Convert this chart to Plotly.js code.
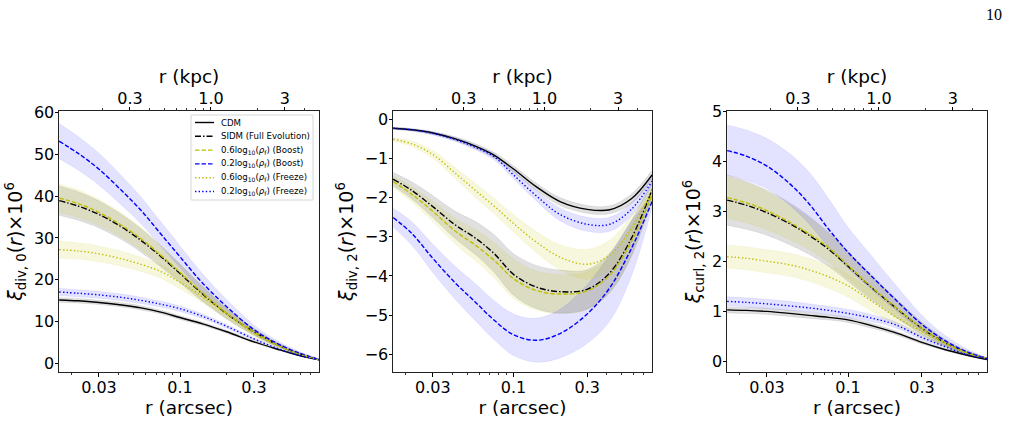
<!DOCTYPE html>
<html>
<head>
<meta charset="utf-8">
<script src="https://cdn.plot.ly/plotly-3.0.1.min.js"></script>
<style>
  html, body { margin: 0; padding: 0; background: #fff; }
  #chart { width: 1010px; height: 422px; }
</style>
</head>
<body>
<div id="chart"></div>
<script>
// Radial sampling points (arcsec) shared by every curve
const r_arcsec = [0.0166, 0.022, 0.03, 0.042, 0.056, 0.075, 0.1, 0.14, 0.2, 0.3, 0.42, 0.58, 0.79];
const kpcPerArcsec = 6.31;

const arcsecTicks = [0.03, 0.1, 0.3];
const arcsecTickText = ['0.03', '0.1', '0.3'];
const kpcTicks = [0.3, 1.0, 3];
const kpcTickText = ['0.3', '1.0', '3'];

// ---- xi_div,0 (x 1e6) ----
const div0_cdm        = [15.2, 15.0, 14.6, 14.0, 13.3, 12.3, 11.0, 9.5, 7.6, 5.2, 3.5, 2.0, 0.9];
const div0_cdm_err    = [0.55, 0.55, 0.5, 0.5, 0.5, 0.45, 0.45, 0.4, 0.35, 0.25, 0.17, 0.1, 0.05];
const div0_sidm       = [38.9, 37.6, 35.6, 32.6, 29.4, 25.6, 21.5, 16.6, 11.9, 7.6, 4.6, 2.4, 0.95];
const div0_sidm_err   = [3.5, 3.4, 3.2, 3.0, 2.8, 2.5, 2.2, 1.8, 1.3, 0.8, 0.5, 0.3, 0.1];
const div0_boost06    = [39.5, 38.2, 36.1, 33.0, 29.8, 25.9, 21.8, 16.8, 12.0, 7.6, 4.6, 2.4, 0.95];
const div0_boost06_err= [3.4, 3.3, 3.1, 2.9, 2.7, 2.4, 2.1, 1.7, 1.25, 0.8, 0.5, 0.3, 0.1];
const div0_boost02    = [53.1, 50.2, 46.4, 41.3, 36.6, 31.0, 25.5, 19.2, 13.6, 8.1, 4.9, 2.6, 1.0];
const div0_boost02_err= [4.2, 4.0, 3.8, 3.5, 3.2, 2.9, 2.6, 2.2, 1.7, 1.1, 0.7, 0.4, 0.15];
const div0_freeze06   = [27.2, 26.9, 26.2, 25.0, 23.7, 22.0, 19.4, 15.9, 12.0, 7.2, 4.4, 2.3, 0.95];
const div0_freeze06_err=[2.0, 1.95, 1.9, 1.8, 1.7, 1.6, 1.5, 1.3, 1.0, 0.7, 0.45, 0.25, 0.1];
const div0_freeze02   = [17.1, 16.8, 16.4, 15.8, 15.1, 14.2, 13.1, 11.3, 8.9, 5.9, 3.7, 2.0, 0.95];
const div0_freeze02_err=[0.85, 0.85, 0.8, 0.8, 0.75, 0.7, 0.65, 0.55, 0.45, 0.3, 0.2, 0.12, 0.05];

// ---- xi_div,2 (x 1e6) ----
const div2_cdm        = [-0.23, -0.27, -0.35, -0.50, -0.68, -0.92, -1.27, -1.72, -2.10, -2.30, -2.31, -2.03, -1.42];
const div2_cdm_err    = [0.03, 0.03, 0.04, 0.05, 0.06, 0.07, 0.08, 0.09, 0.1, 0.1, 0.1, 0.12, 0.12];
const div2_sidm       = [-1.53, -1.82, -2.23, -2.70, -3.02, -3.43, -3.96, -4.28, -4.40, -4.34, -3.92, -3.04, -1.80];
const div2_sidm_err   = [0.17, 0.22, 0.28, 0.35, 0.42, 0.48, 0.53, 0.55, 0.55, 0.5, 0.5, 0.45, 0.2];
const div2_boost06    = [-1.59, -1.92, -2.35, -2.86, -3.20, -3.60, -4.07, -4.37, -4.46, -4.38, -3.98, -3.12, -1.93];
const div2_boost06_err= [0.15, 0.2, 0.26, 0.33, 0.4, 0.45, 0.5, 0.5, 0.5, 0.48, 0.45, 0.4, 0.18];
const div2_boost02    = [-2.51, -2.92, -3.55, -4.18, -4.65, -5.13, -5.50, -5.64, -5.47, -4.97, -4.30, -3.30, -2.10];
const div2_boost02_err= [0.24, 0.3, 0.36, 0.42, 0.47, 0.5, 0.53, 0.56, 0.62, 0.75, 0.85, 0.7, 0.15];
const div2_freeze06   = [-0.51, -0.63, -0.90, -1.38, -1.80, -2.22, -2.66, -3.13, -3.52, -3.70, -3.47, -2.78, -1.85];
const div2_freeze06_err=[0.05, 0.07, 0.1, 0.14, 0.18, 0.2, 0.22, 0.27, 0.32, 0.38, 0.38, 0.32, 0.12];
const div2_freeze02   = [-0.23, -0.27, -0.36, -0.52, -0.71, -0.96, -1.42, -1.95, -2.43, -2.68, -2.68, -2.30, -1.58];
const div2_freeze02_err=[0.02, 0.03, 0.04, 0.05, 0.06, 0.08, 0.1, 0.13, 0.16, 0.18, 0.18, 0.16, 0.1];

// ---- xi_curl,2 (x 1e6) ----
const curl2_cdm        = [1.03, 1.02, 1.00, 0.96, 0.92, 0.88, 0.83, 0.72, 0.58, 0.38, 0.24, 0.13, 0.04];
const curl2_cdm_err    = [0.06, 0.06, 0.06, 0.06, 0.06, 0.05, 0.05, 0.05, 0.04, 0.03, 0.02, 0.015, 0.01];
const curl2_sidm       = [3.22, 3.12, 2.97, 2.75, 2.52, 2.24, 1.90, 1.49, 1.09, 0.66, 0.38, 0.18, 0.06];
const curl2_sidm_err   = [0.5, 0.48, 0.45, 0.42, 0.38, 0.34, 0.3, 0.25, 0.19, 0.12, 0.07, 0.04, 0.01];
const curl2_boost06    = [3.27, 3.17, 3.01, 2.78, 2.55, 2.27, 1.92, 1.50, 1.10, 0.66, 0.38, 0.18, 0.06];
const curl2_boost06_err= [0.42, 0.4, 0.38, 0.35, 0.32, 0.29, 0.26, 0.22, 0.17, 0.11, 0.06, 0.03, 0.01];
const curl2_boost02    = [4.21, 4.10, 3.90, 3.55, 3.15, 2.64, 2.18, 1.72, 1.25, 0.74, 0.42, 0.20, 0.06];
const curl2_boost02_lo = [3.72, 3.62, 3.45, 3.12, 2.75, 2.28, 1.86, 1.45, 1.04, 0.60, 0.33, 0.15, 0.05];
const curl2_boost02_hi = [4.72, 4.62, 4.45, 4.15, 3.78, 3.25, 2.68, 2.13, 1.55, 0.92, 0.53, 0.26, 0.08];
const curl2_freeze06   = [2.09, 2.06, 2.00, 1.93, 1.83, 1.69, 1.51, 1.22, 0.90, 0.60, 0.36, 0.17, 0.06];
const curl2_freeze06_err=[0.23, 0.23, 0.23, 0.23, 0.23, 0.23, 0.23, 0.2, 0.16, 0.11, 0.07, 0.04, 0.01];
const curl2_freeze02   = [1.20, 1.18, 1.15, 1.11, 1.07, 1.02, 0.96, 0.87, 0.74, 0.48, 0.30, 0.14, 0.05];
const curl2_freeze02_err=[0.09, 0.09, 0.09, 0.09, 0.08, 0.08, 0.08, 0.07, 0.06, 0.05, 0.03, 0.02, 0.01];

// Model styling
const BLACK = '#000000', YEL = '#bfbf00', BLUE = '#0000ff';
const models = {
  cdm:      {name: 'CDM', color: BLACK, dash: 'solid', band: 'rgba(0,0,0,0.12)'},
  sidm:     {name: 'SIDM (Full Evolution)', color: BLACK, dash: '6px,2px,1.5px,2px', band: 'rgba(0,0,0,0.12)'},
  boost06:  {name: '0.6log<sub>10</sub>(<i>ρ</i><sub>f</sub>) (Boost)', color: YEL, dash: '4.5px,2px', band: 'rgba(191,191,0,0.13)'},
  boost02:  {name: '0.2log<sub>10</sub>(<i>ρ</i><sub>f</sub>) (Boost)', color: BLUE, dash: '4.5px,2px', band: 'rgba(0,0,255,0.11)'},
  freeze06: {name: '0.6log<sub>10</sub>(<i>ρ</i><sub>f</sub>) (Freeze)', color: YEL, dash: '1.4px,2.2px', band: 'rgba(191,191,0,0.13)'},
  freeze02: {name: '0.2log<sub>10</sub>(<i>ρ</i><sub>f</sub>) (Freeze)', color: BLUE, dash: '1.4px,2.2px', band: 'rgba(0,0,255,0.11)'}
};
const order = ['cdm', 'sidm', 'boost06', 'boost02', 'freeze06', 'freeze02'];

const panels = [
  {xa: 'x', ya: 'y', series: {
    cdm: [div0_cdm, div0_cdm_err], sidm: [div0_sidm, div0_sidm_err],
    boost06: [div0_boost06, div0_boost06_err], boost02: [div0_boost02, div0_boost02_err],
    freeze06: [div0_freeze06, div0_freeze06_err], freeze02: [div0_freeze02, div0_freeze02_err]}},
  {xa: 'x2', ya: 'y2', series: {
    cdm: [div2_cdm, div2_cdm_err], sidm: [div2_sidm, div2_sidm_err],
    boost06: [div2_boost06, div2_boost06_err], boost02: [div2_boost02, div2_boost02_err],
    freeze06: [div2_freeze06, div2_freeze06_err], freeze02: [div2_freeze02, div2_freeze02_err]}},
  {xa: 'x3', ya: 'y3', series: {
    cdm: [curl2_cdm, curl2_cdm_err], sidm: [curl2_sidm, curl2_sidm_err],
    boost06: [curl2_boost06, curl2_boost06_err], boost02: [curl2_boost02, null, curl2_boost02_lo, curl2_boost02_hi],
    freeze06: [curl2_freeze06, curl2_freeze06_err], freeze02: [curl2_freeze02, curl2_freeze02_err]}}
];

const traces = [];
panels.forEach(p => {
  // shaded uncertainty bands first
  order.forEach(k => {
    const s = p.series[k], m = models[k];
    const lo = s[2] || s[0].map((v, i) => v - s[1][i]);
    const hi = s[3] || s[0].map((v, i) => v + s[1][i]);
    traces.push({x: r_arcsec, y: lo, xaxis: p.xa, yaxis: p.ya, mode: 'lines',
      line: {color: m.band, width: 0.6, shape: 'spline', smoothing: 1}, showlegend: false, hoverinfo: 'skip'});
    traces.push({x: r_arcsec, y: hi, xaxis: p.xa, yaxis: p.ya, mode: 'lines', fill: 'tonexty', fillcolor: m.band,
      line: {color: m.band, width: 0.6, shape: 'spline', smoothing: 1}, showlegend: false, hoverinfo: 'skip'});
  });
  // median curves on top
  order.forEach(k => {
    const s = p.series[k], m = models[k];
    traces.push({x: r_arcsec, y: s[0], xaxis: p.xa, yaxis: p.ya, mode: 'lines', name: m.name,
      line: {color: m.color, width: 1.4, dash: m.dash, shape: 'spline', smoothing: 1},
      showlegend: false, hoverinfo: 'skip'});
  });
});

// secondary (kpc) axes carry no marks, only their own scale
['x4', 'x5', 'x6'].forEach((xa, i) => {
  traces.push({x: kpcTicks, y: kpcTicks.map(() => null), xaxis: xa, yaxis: ['y', 'y2', 'y3'][i],
    mode: 'lines', showlegend: false, hoverinfo: 'skip'});
});

const W = 1010, H = 422;
const xmin = 0.01656, xmax = 0.789;
const yDom = [1 - 372 / H, 1 - 111 / H];
const xDoms = [[59 / W, 319 / W], [393 / W, 652 / W], [727 / W, 987 / W]];

const minorArcsec = [0.02, 0.04, 0.05, 0.06, 0.07, 0.08, 0.09, 0.2, 0.4, 0.5, 0.6, 0.7];
const minorKpc = [0.2, 0.4, 0.5, 0.6, 0.7, 0.8, 0.9, 2, 4];

function bottomAxis(dom, yref) {
  return {
    domain: dom, anchor: yref, type: 'log',
    range: [Math.log10(xmin), Math.log10(xmax)],
    tickmode: 'array', tickvals: arcsecTicks, ticktext: arcsecTickText,
    ticks: 'outside', ticklen: 3.5, tickwidth: 1, tickcolor: '#000', ticklabelstandoff: -3,
    minor: {tickmode: 'array', tickvals: minorArcsec, ticks: 'outside', ticklen: 2, tickwidth: 0.8, tickcolor: '#000'},
    showline: true, linecolor: '#222', linewidth: 1, mirror: true,
    showgrid: false, zeroline: false,
    tickfont: {size: 16},
    title: {text: 'r (arcsec)', font: {size: 18.5}, standoff: 3}
  };
}
function topAxis(over, yref) {
  return {
    overlaying: over, anchor: yref, side: 'top', type: 'log',
    range: [Math.log10(xmin * kpcPerArcsec), Math.log10(xmax * kpcPerArcsec)],
    tickmode: 'array', tickvals: kpcTicks, ticktext: kpcTickText,
    ticks: 'outside', ticklen: 3.5, tickwidth: 1, tickcolor: '#000', ticklabelstandoff: -4,
    minor: {tickmode: 'array', tickvals: minorKpc, ticks: 'outside', ticklen: 2, tickwidth: 0.8, tickcolor: '#000'},
    showline: true, linecolor: '#222', linewidth: 1,
    showgrid: false, zeroline: false,
    tickfont: {size: 16},
    title: {text: 'r (kpc)', font: {size: 18.5}, standoff: 0}
  };
}
function leftAxis(xref, range, dtick, titleText) {
  return {
    domain: yDom, anchor: xref, range: range, dtick: dtick, tick0: 0,
    ticks: 'outside', ticklen: 3.5, tickwidth: 1, tickcolor: '#000', ticklabelstandoff: -3,
    showline: true, linecolor: '#222', linewidth: 1, mirror: true,
    showgrid: false, zeroline: false,
    tickfont: {size: 16},
    title: {text: titleText, font: {size: 19}, standoff: 6}
  };
}

// Legend drawn in panel one: frame, line samples and labels
const legendBox = {x0: 191, x1: 313, y0: 115, y1: 200};
const legendRow0 = 122.5, legendRowStep = 13.8;
const legendShapes = [{
  type: 'rect', xref: 'paper', yref: 'paper', layer: 'above',
  x0: legendBox.x0 / W, x1: legendBox.x1 / W, y0: 1 - legendBox.y1 / H, y1: 1 - legendBox.y0 / H,
  fillcolor: 'rgba(255,255,255,0.85)', line: {color: '#cccccc', width: 0.8}
}];
const legendNotes = [];
order.forEach((k, i) => {
  const m = models[k], yy = 1 - (legendRow0 + i * legendRowStep) / H;
  legendShapes.push({type: 'line', xref: 'paper', yref: 'paper', layer: 'above',
    x0: 195 / W, x1: 214 / W, y0: yy, y1: yy, line: {color: m.color, width: 1.4, dash: m.dash}});
  legendNotes.push({text: m.name, xref: 'paper', yref: 'paper', x: 219 / W, y: yy,
    xanchor: 'left', yanchor: 'middle', showarrow: false,
    font: {family: 'DejaVu Sans, sans-serif', size: 8.6, color: '#000'}});
});

const layout = {
  width: W, height: H,
  margin: {l: 0, r: 0, t: 0, b: 0},
  paper_bgcolor: '#fff', plot_bgcolor: '#fff',
  font: {family: 'DejaVu Sans, sans-serif', size: 16, color: '#000'},
  hovermode: false,
  showlegend: false,
  xaxis: bottomAxis(xDoms[0], 'y'),
  xaxis2: bottomAxis(xDoms[1], 'y2'),
  xaxis3: bottomAxis(xDoms[2], 'y3'),
  xaxis4: topAxis('x', 'y'),
  xaxis5: topAxis('x2', 'y2'),
  xaxis6: topAxis('x3', 'y3'),
  yaxis: leftAxis('x', [-2.0, 60.3], 10, '<i>ξ</i><sub>div, 0</sub>(<i>r</i>)×10<sup>6</sup>'),
  yaxis2: leftAxis('x2', [-6.45, 0.21], 1, '<i>ξ</i><sub>div, 2</sub>(<i>r</i>)×10<sup>6</sup>'),
  yaxis3: leftAxis('x3', [-0.21, 5.0], 1, '<i>ξ</i><sub>curl, 2</sub>(<i>r</i>)×10<sup>6</sup>'),
  shapes: legendShapes,
  annotations: legendNotes.concat([{
    text: '10', xref: 'paper', yref: 'paper', x: 994 / W, y: 1 - 15 / H,
    xanchor: 'center', yanchor: 'middle', showarrow: false,
    font: {family: 'Liberation Serif, serif', size: 16, color: '#000'}
  }])
};

Plotly.newPlot('chart', traces, layout, {staticPlot: true, displayModeBar: false});
</script>
</body>
</html>
